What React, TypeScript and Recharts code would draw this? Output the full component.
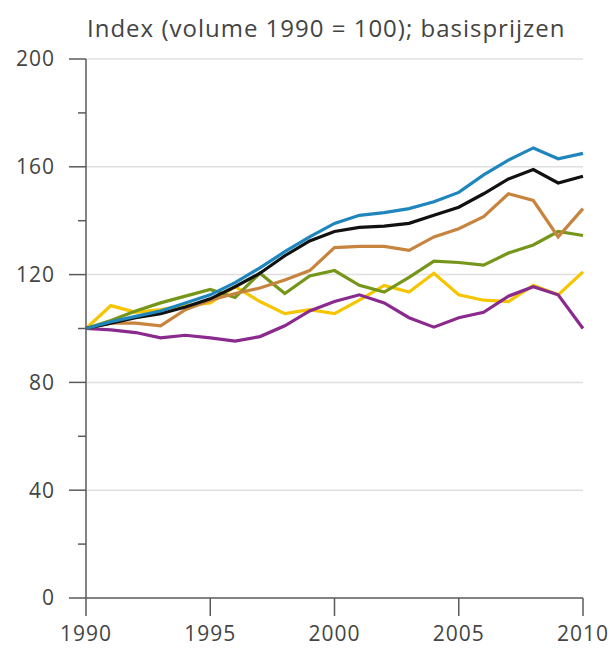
import React from 'react';
import { LineChart, Line, XAxis, YAxis, ReferenceLine } from 'recharts';

const years = [1990,1991,1992,1993,1994,1995,1996,1997,1998,1999,2000,2001,2002,2003,2004,2005,2006,2007,2008,2009,2010];
const blueSeries = [100,102.5,104.5,106.5,109.5,112.5,117,122.5,128.5,134,139,142,143,144.5,147,150.5,157,162.5,167,163,165];
const blackSeries = [100,102,104,105.5,108,111,115.5,120.5,127,132.5,136,137.5,138,139,142,145,150,155.5,159,154,156.5];
const orangeSeries = [100,102,102,101,107,110.5,113,115,118,121.5,130,130.5,130.5,129,134,137,141.5,150,147.5,134,144.5];
const greenSeries = [100,103,106.5,109.5,112,114.5,111.5,120.5,113,119.5,121.5,116,113.5,119,125,124.5,123.5,128,131,136,134.5];
const yellowSeries = [100,108.5,106,107,108.5,109.5,115.5,110,105.5,107,105.5,110.5,116,113.5,120.5,112.5,110.5,110,116,112.5,121];
const purpleSeries = [100,99.5,98.5,96.5,97.5,96.5,95.3,97,101,106.5,110,112.5,109.5,104,100.5,104,106,112,115.5,112.5,100];

const xTicks = [1990, 1995, 2000, 2005, 2010];
const yTicks = [0, 20, 40, 60, 80, 100, 120, 140, 160, 180, 200];
const yLabelled = [0, 40, 80, 120, 160, 200];
const gridValues = [40, 80, 120, 160, 200];
const title = 'Index (volume 1990 = 100); basisprijzen';

const data = years.map((year, i) => ({
  year,
  blue: blueSeries[i],
  black: blackSeries[i],
  orange: orangeSeries[i],
  green: greenSeries[i],
  yellow: yellowSeries[i],
  purple: purpleSeries[i],
}));

const FONT = '"Open Sans", "Noto Sans", sans-serif';
const TEXT = '#444';
const AXIS = '#5a5a5a';

const YTick = (props: any) => {
  const { x, y, payload } = props;
  const major = yLabelled.includes(payload.value);
  return (
    <g>
      <line x1={x - (major ? 17 : 8)} x2={x} y1={y} y2={y} stroke={AXIS} strokeWidth={1.5} />
      {major && (
        <text x={x - 31} y={y} dy="0.35em" textAnchor="end" fontSize={21} letterSpacing={1} fill={TEXT} fontFamily={FONT}>
          {payload.value}
        </text>
      )}
    </g>
  );
};

const series = [
  { key: 'yellow', color: '#f6c500' },
  { key: 'purple', color: '#8a2a8e' },
  { key: 'green', color: '#76961a' },
  { key: 'orange', color: '#c7843f' },
  { key: 'black', color: '#111111' },
  { key: 'blue', color: '#1f86bd' },
];

export default function App() {
  return (
    <div style={{ position: 'absolute', left: 0, top: 0, width: 612, height: 655, background: '#fff' }}>
      <div
        style={{
          position: 'absolute',
          left: 87,
          top: 14,
          fontFamily: FONT,
          fontSize: 24,
          letterSpacing: 1,
          color: TEXT,
          whiteSpace: 'nowrap',
          lineHeight: '28px',
        }}
      >
        {title}
      </div>
      <LineChart width={612} height={655} data={data} margin={{ top: 59, right: 29, bottom: 0, left: 0 }}>
        {gridValues.map((v) => (
          <ReferenceLine key={v} y={v} stroke="#e0e0e0" strokeWidth={1.5} ifOverflow="extendDomain" />
        ))}
        <XAxis
          dataKey="year"
          type="number"
          domain={[1990, 2010]}
          ticks={xTicks}
          height={57}
          tickSize={18}
          tickMargin={10}
          stroke={AXIS}
          axisLine={{ stroke: AXIS, strokeWidth: 1.5 }}
          tickLine={{ stroke: AXIS, strokeWidth: 1.5 }}
          tick={{ fontSize: 21, fill: TEXT, fontFamily: FONT, letterSpacing: 1 }}
          interval={0}
        />
        <YAxis
          type="number"
          domain={[0, 200]}
          ticks={yTicks}
          width={86}
          tickSize={0}
          tickMargin={0}
          axisLine={{ stroke: AXIS, strokeWidth: 1.5 }}
          tickLine={false}
          tick={<YTick />}
          interval={0}
        />
        {series.map((s) => (
          <Line
            key={s.key}
            dataKey={s.key}
            type="linear"
            stroke={s.color}
            strokeWidth={3.2}
            dot={false}
            isAnimationActive={false}
          />
        ))}
      </LineChart>
    </div>
  );
}
